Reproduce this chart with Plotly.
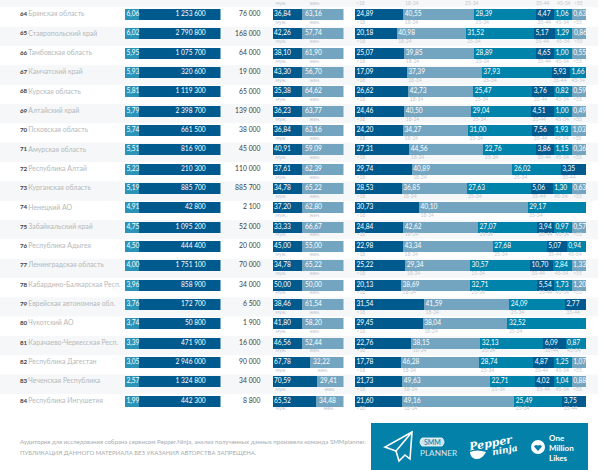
import plotly.graph_objects as go

ranks = list(range(64, 85))
regions = ["Брянская область", "Ставропольский край", "Тамбовская область", "Камчатский край", "Курская область",
           "Алтайский край", "Псковская область", "Амурская область", "Республика Алтай", "Курганская область",
           "Ненецкий АО", "Забайкальский край", "Республика Адыгея", "Ленинградская область",
           "Кабардино-Балкарская Респ.", "Еврейская автономная обл.", "Чукотский АО", "Карачаево-Черкесская Респ.",
           "Республика Дагестан", "Чеченская Республика", "Республика Ингушетия"]
index_labels = ["6,06", "6,02", "5,95", "5,93", "5,81", "5,79", "5,74", "5,51", "5,23", "5,19", "4,91", "4,75", "4,50",
                "4,00", "3,96", "3,76", "3,74", "3,39", "3,05", "2,57", "1,99"]
population = ["1 253 600", "2 790 800", "1 075 700", "320 600", "1 119 300", "2 398 700", "661 500", "816 900",
              "210 300", "885 700", "42 800", "1 095 200", "444 400", "1 751 100", "858 900", "172 700", "50 800",
              "471 900", "2 946 000", "1 324 800", "442 300"]
audience = ["76 000", "168 000", "64 000", "19 000", "65 000", "139 000", "38 000", "45 000", "110 000", "885 700",
            "2 100", "52 000", "20 000", "70 000", "34 000", "6 500", "1 900", "16 000", "90 000", "34 000", "8 800"]
male_labels = ["36,84", "42,26", "38,10", "43,30", "35,38", "36,23", "36,84", "40,91", "37,61", "34,78", "37,20",
               "33,33", "45,00", "34,78", "50,00", "38,46", "41,80", "46,56", "67,78", "70,59", "65,52"]
female_labels = ["63,16", "57,74", "61,90", "56,70", "64,62", "63,77", "63,16", "59,09", "62,39", "65,22", "62,80",
                 "66,67", "55,00", "65,22", "50,00", "61,54", "58,20", "52,44", "32,22", "29,41", "34,48"]
# drawn lengths of the segments as they appear in the picture (the source graphic is not to scale)
index_len = [15] * 21
rest_len = [85] * 21
male_len = [29] * 18 + [37, 44, 43]
female_len = [42] * 18 + [34, 27, 28]
age_names = ["<18", "18-24", "25-34", "35-44", "45-54", ">55"]
age_labels = [
    ["24,89", "40,55", "28,39", "4,47", "1,06", "0,63"],
    ["20,18", "40,98", "31,52", "5,17", "1,29", "0,86"],
    ["25,07", "39,85", "28,89", "4,65", "1,00", "0,55"],
    ["17,09", "37,39", "37,93", "5,93", "1,66"],
    ["26,62", "42,73", "25,47", "3,76", "0,82", "0,59"],
    ["24,46", "40,50", "29,04", "4,51", "1,00", "0,49"],
    ["24,20", "34,27", "31,00", "7,56", "1,93", "1,03"],
    ["27,31", "44,56", "22,76", "3,86", "1,15", "0,36"],
    ["29,74", "40,89", "26,02", "3,35"],
    ["28,53", "36,85", "27,63", "5,06", "1,30", "0,63"],
    ["30,73", "40,10", "29,17"],
    ["24,84", "42,62", "27,07", "3,94", "0,97", "0,57"],
    ["22,98", "43,34", "27,68", "5,07", "0,94"],
    ["25,22", "29,34", "30,57", "10,70", "2,84", "1,33"],
    ["20,13", "38,69", "32,71", "5,54", "1,73", "1,20"],
    ["31,54", "41,59", "24,09", "2,77"],
    ["29,45", "38,04", "32,52"],
    ["22,76", "38,15", "32,13", "6,09", "0,87"],
    ["17,78", "46,28", "28,74", "4,87", "1,25", "1,07"],
    ["21,73", "49,63", "22,71", "4,02", "1,04", "0,88"],
    ["21,60", "49,16", "25,49", "3,75"],
]
age_len = [
    [48.3, 70.7, 62, 18, 17.7, 14.3],
    [41.7, 69, 68.3, 20.7, 17.7, 14.3],
    [49.3, 70, 61.7, 18, 17.7, 14.3],
    [51.7, 75, 70, 18.3, 16],
    [53.3, 65, 59, 21.7, 17.7, 14.3],
    [49.3, 67, 59.7, 23, 17.7, 14.3],
    [48, 65, 64.3, 21.3, 17.7, 14.3],
    [54.3, 74, 52.7, 18, 17.7, 14.3],
    [56.7, 100.7, 48.3, 25.3],
    [46.7, 65, 64, 22, 19, 14.3],
    [64, 108.7, 58.3],
    [48.3, 74.7, 59.3, 16.7, 17.7, 14.3],
    [48, 89.7, 54, 20, 19.3],
    [50.3, 64.7, 60, 23.3, 18.3, 14.3],
    [46, 69, 67.3, 16.7, 17.7, 14.3],
    [69, 85.3, 55.7, 21],
    [67.7, 84.7, 78.7],
    [56.3, 69, 63, 22.3, 20.3],
    [46, 78.3, 54, 20.7, 17.7, 14.3],
    [47.3, 87.7, 45, 19, 17.7, 14.3],
    [47.3, 112, 48, 23.3],
]
top_age_starts = [1, 50, 110, 181, 202, 219]

DARK, TEAL, PALE = "#005a8e", "#0083aa", "#74a5c0"
age_colors = [DARK, PALE, TEAL, DARK, TEAL, PALE]
MID = "#2b93b6"
SOFT = "#c3c9cd"

n = len(ranks)
rows = list(range(n))
fig = go.Figure()


def bars(xaxis, lengths, color):
    fig.add_trace(go.Bar(x=lengths, y=rows, orientation="h", xaxis=xaxis, yaxis="y", width=0.57,
                         marker=dict(color=color, line=dict(width=0)), hoverinfo="skip", showlegend=False))


def labels(xaxis, xs, ys, texts, color, size, pos="middle right", yaxis="y", family="Lato"):
    fig.add_trace(go.Scatter(x=xs, y=ys, text=texts, mode="text", textposition=pos, xaxis=xaxis, yaxis=yaxis,
                             textfont=dict(color=color, size=size, family=family), hoverinfo="skip",
                             showlegend=False, cliponaxis=False))


bars("x2", index_len, MID)
bars("x2", rest_len, DARK)
bars("x3", male_len, DARK)
bars("x3", female_len, PALE)
for k in range(6):
    bars("x4", [row[k] if k < len(row) else None for row in age_len], age_colors[k])

labels("x", [28.3] * n, rows, regions, "#b4b9bc", 6.9)
labels("x", [20] * n, rows, [f"<b>{r}</b>" for r in ranks], "#3c4043", 6.2)
labels("x", [260.5] * n, rows, audience, "#3c4043", 6.8, "middle left")
labels("x2", [1.5] * n, rows, index_labels, "#ffffff", 6.6)
labels("x2", [84.5] * n, rows, population, "#ffffff", 6.6, "middle left")
labels("x3", [1.5] * n, rows, male_labels, "#ffffff", 6.6)
labels("x3", [m + 3.5 for m in male_len], rows, female_labels, "#ffffff", 6.6)

lab_x, lab_y, lab_t, und_x, und_y, und_t = [], [], [], [], [], []
for i, (row, lens) in enumerate(zip(age_labels, age_len)):
    pos = 0
    for k, (txt, w) in enumerate(zip(row, lens)):
        lab_x.append(pos + 1.5)
        lab_y.append(i)
        lab_t.append(txt)
        und_x.append(pos + 1.5)
        und_y.append(i + 0.42)
        und_t.append(age_names[k])
        pos += w
labels("x4", lab_x, lab_y, lab_t, "#ffffff", 6.6)
labels("x4", und_x, und_y, und_t, SOFT, 5)
labels("x4", top_age_starts, [-1 + 0.42] * 6, age_names, SOFT, 5)
labels("x3", [3] * (n + 1), [i + 0.42 for i in rows] + [-0.58], ["муж."] * (n + 1), SOFT, 5)
labels("x3", [m + 8 for m in male_len] + [37], [i + 0.42 for i in rows] + [-0.58], ["жен."] * (n + 1), SOFT, 5)

shapes = []
for i in range(-1, n, 2):
    shapes.append(dict(type="rect", layer="below", xref="x", yref="y", x0=0, x1=598, y0=i - 0.37, y1=i + 0.63,
                       fillcolor="#f6f7f8", line=dict(width=0)))
page = dict(xref="x", yref="y2")
shapes.append(dict(type="rect", **page, x0=371, x1=588, y0=423, y1=470, fillcolor="#0481a8", line=dict(width=0), layer="below"))
shapes.append(dict(type="path", **page, path="M412,432 L385,447 L396,451 L399,461 L405,455 L410,459 Z M412,432 L396,451",
                   line=dict(color="#ffffff", width=1.6)))
shapes.append(dict(type="path", **page, path="M422,438 L442,438 Q446,442 442,446 L422,446 Q418,442 422,438 Z",
                   fillcolor="#cfe3ec", line=dict(color="#ffffff", width=0.8)))
shapes.append(dict(type="path", **page, path="M470,452 Q477,449 486,452 Q482,460 475,459 Q470,457 470,452 Z", fillcolor="#ffffff",
                   line=dict(width=0)))
shapes.append(dict(type="circle", **page, x0=531, x1=545, y0=440, y1=454, fillcolor="#ffffff", line=dict(width=0)))
shapes.append(dict(type="path", **page, path="M538,451 L534,446.5 Q535,444 538,445.5 Q541,444 542,446.5 Z", fillcolor="#0481a8",
                   line=dict(width=0)))


def note(x, y, text, size, color, family="Lato", anchor="left", angle=0):
    fig.add_annotation(x=x, y=y, xref="x", yref="y2", text=text, showarrow=False, xanchor=anchor, yanchor="middle",
                       font=dict(size=size, color=color, family=family), textangle=angle,
                       borderpad=0, borderwidth=0)


note(20, 441, "Аудитория для исследования собрана сервисом Pepper.Ninja, анализ полученных данных произвела команда SMMplanner.", 6.1, "#a6acb0")
note(20, 452, "ПУБЛИКАЦИЯ ДАННОГО МАТЕРИАЛА БЕЗ УКАЗАНИЯ АВТОРСТВА ЗАПРЕЩЕНА.", 6, "#a6acb0")
note(432, 442, "SMM", 7, "#0481a8", anchor="center")
note(420, 453, "PLANNER", 8.2, "#d8e8ef")
note(490, 443, "<b><i>Pepper</i></b>", 11, "#ffffff", "DejaVu Serif", "center", -10)
note(505, 450, "<b><i>ninja</i></b>", 9, "#ffffff", "DejaVu Serif", "center", -10)
note(549, 437.5, "<b>One</b>", 8, "#ffffff")
note(549, 447.5, "<b>Million</b>", 8, "#ffffff")
note(549, 457.5, "<b>Likes</b>", 8, "#ffffff")

axis = dict(visible=False, fixedrange=True)
fig.update_layout(
    width=604, height=470, margin=dict(l=0, r=0, t=0, b=0), autosize=False,
    paper_bgcolor="#ffffff", plot_bgcolor="rgba(0,0,0,0)", barmode="stack", shapes=shapes, showlegend=False,
    xaxis=dict(domain=[0, 1], range=[0, 604], **axis),
    xaxis2=dict(domain=[125 / 604, 220.5 / 604], range=[0, 100], anchor="y", **axis),
    xaxis3=dict(domain=[272.5 / 604, 343.5 / 604], range=[0, 71], anchor="y", **axis),
    xaxis4=dict(domain=[355 / 604, 586 / 604], range=[0, 231], anchor="y", **axis),
    yaxis=dict(domain=[0, 1], range=[23.565, -0.75], **axis),
    yaxis2=dict(domain=[0, 1], range=[470, 0], anchor="x", overlaying="y", **axis),
)
fig.write_html("out.html", post_script="document.body.style.margin='0';", config=dict(displayModeBar=False))
